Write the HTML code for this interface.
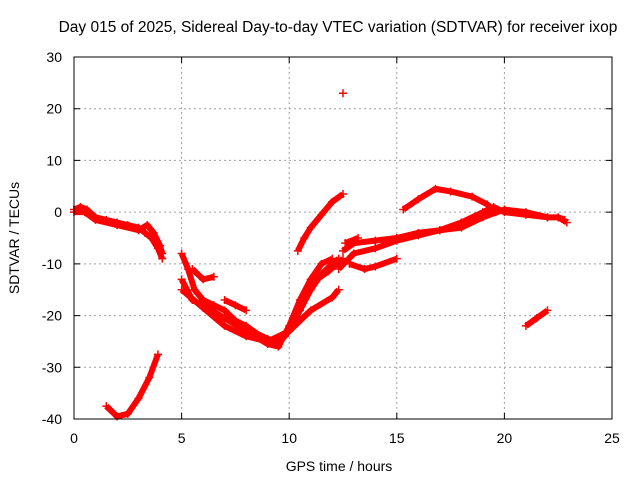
<!DOCTYPE html>
<html><head><meta charset="utf-8"><style>
body{margin:0;background:#fff}
svg{display:block;font-family:"Liberation Sans",sans-serif}
</style></head><body>
<svg id="chart" width="640" height="480">
<text x="338" y="32" text-anchor="middle" font-size="15.5">Day 015 of 2025, Sidereal Day-to-day VTEC variation (SDTVAR) for receiver ixop</text>
<text x="339" y="471" text-anchor="middle" font-size="14">GPS time / hours</text>
<text transform="translate(19,238) rotate(-90)" text-anchor="middle" font-size="14">SDTVAR / TECUs</text>
<g id="grid"></g>
<g id="marks"></g>
<rect x="74" y="57" width="538" height="362" fill="none" stroke="#000" stroke-width="1"/>
</svg>
<script>
const xTicks=[0,5,10,15,20,25];
const yTicks=[30,20,10,0,-10,-20,-30,-40];
const t1=[[0,0.5],[0.3,1],[0.6,0.5],[1,-1],[1.5,-1.5],[2,-2],[2.5,-2.5],[3,-3],[3.3,-4],[3.6,-5],[3.9,-7],[4.1,-9]];
const t1b=[[0,0],[0.5,0],[1,-1.5],[2,-2.5],[3,-3.5],[3.4,-2.5],[3.7,-4],[4,-6.5],[4.1,-8]];
const t2=[[1.5,-37.5],[2,-39.5],[2.5,-39],[3,-36],[3.5,-32],[3.9,-27.5]];
const t3=[[5,-8],[5.3,-11],[5.6,-15],[6,-17],[6.5,-18],[7,-19],[7.5,-21],[8,-22],[8.5,-23.5],[9,-24.5],[9.5,-25],[10,-23],[10.5,-19],[11,-15],[11.5,-12],[12,-10],[12.3,-9]];
const t3b=[[5,-13],[5.5,-17],[6,-18],[7,-20.5],[8,-23],[9,-25.5],[9.5,-26],[10,-22],[10.5,-17],[11,-13],[11.5,-10],[12,-9]];
const t3c=[[5,-15],[6,-18.5],[7,-22],[8,-24],[9,-25],[10,-23],[11,-19],[12,-16.5],[12.3,-15]];
const t3f=[[9.3,-25],[9.8,-24],[10.3,-20],[10.8,-16],[11.3,-13],[11.8,-11.5],[12.5,-9]];
const t3d=[[5.5,-11],[6,-13],[6.5,-12.5]];
const t3e=[[7,-17],[7.5,-18],[8,-19]];
const t4=[[10.4,-7.5],[10.7,-5],[11,-3],[11.5,-0.5],[12,2],[12.5,3.5]];
const t5=[[12.5,23]];
const t6=[[12.3,-11],[13,-8],[14,-7],[15,-5.5],[16,-4.5],[17,-3.5],[18,-2],[19,0],[19.5,1],[20,0],[21,-0.5],[22,-1],[22.5,-1],[22.8,-1.5]];
const t6b=[[12.5,-7.5],[13,-6],[14,-5.5],[15,-5],[16,-4],[17,-3.5],[18,-3],[19,-1],[20,0.5],[21,0],[22,-1]];
const t6c=[[12.8,-10],[13.5,-11],[14,-10.5],[15,-9]];
const t6d=[[12.6,-6],[13.2,-5]];
const t7=[[15.3,0.5],[16,2.5],[16.8,4.5],[17.5,4],[18.5,3],[19.2,1.5],[19.6,0]];
const t8=[[21,-22],[21.5,-20.5],[22,-19]];
const t9=[[22.5,-1],[22.9,-2]];
const tracks=[t1,t1b,t2,t3,t3b,t3c,t3f,t3d,t3e,t4,t5,t6,t6b,t6c,t6d,t7,t8,t9];

const NS="http://www.w3.org/2000/svg";
const X0=74,X1=612,Y0=419,Y1=57;
function sx(v){return X0+(v-0)/(25-0)*(X1-X0);}
function sy(v){return Y0-(v+40)/(70)*(Y0-Y1);}
const grid=document.getElementById('grid');
const svg=document.getElementById('chart');
xTicks.forEach(t=>{
  const x=sx(t);
  if(t>0&&t<25){const l=document.createElementNS(NS,'line');
  l.setAttribute('x1',x);l.setAttribute('x2',x);l.setAttribute('y1',Y1);l.setAttribute('y2',Y0);
  l.setAttribute('stroke','#a0a0a0');l.setAttribute('stroke-dasharray','2,3');
  
  
  grid.appendChild(l);}
  const tk=document.createElementNS(NS,'path');
  tk.setAttribute('d',`M${x},${Y0}v-6M${x},${Y1}v6`);tk.setAttribute('stroke','#000');
  
  
  grid.appendChild(tk);
  const tx=document.createElementNS(NS,'text');
  tx.setAttribute('x',x);tx.setAttribute('y',443);tx.setAttribute('text-anchor','middle');tx.setAttribute('font-size','14');
  tx.textContent=t;
  
  
  svg.appendChild(tx);
});
yTicks.forEach(t=>{
  const y=sy(t);
  if(t<30&&t>-40){const l=document.createElementNS(NS,'line');
  l.setAttribute('x1',X0);l.setAttribute('x2',X1);l.setAttribute('y1',y);l.setAttribute('y2',y);
  l.setAttribute('stroke','#a0a0a0');l.setAttribute('stroke-dasharray','2,3');
  
  
  grid.appendChild(l);}
  const tk=document.createElementNS(NS,'path');
  tk.setAttribute('d',`M${X0},${y}h6M${X1},${y}h-6`);tk.setAttribute('stroke','#000');
  
  
  grid.appendChild(tk);
  const tx=document.createElementNS(NS,'text');
  tx.setAttribute('x',62);tx.setAttribute('y',y+5);tx.setAttribute('text-anchor','end');tx.setAttribute('font-size','14');
  tx.textContent=t;
  
  
  svg.appendChild(tx);
});
const marks=document.getElementById('marks');
tracks.forEach(tr=>{
  if(tr.length>1){
    const p=document.createElementNS(NS,'polyline');
    p.setAttribute('points',tr.map(d=>sx(d[0])+','+sy(d[1])).join(' '));
    p.setAttribute('fill','none');p.setAttribute('stroke','#ff0000');p.setAttribute('stroke-width','6');
    p.setAttribute('stroke-linejoin','round');
    
    
    marks.appendChild(p);
  }
  tr.forEach(d=>{
    const x=sx(d[0]),y=sy(d[1]);
    const m=document.createElementNS(NS,'path');
    m.setAttribute('d',`M${x-4},${y}h8M${x},${y-4}v8`);
    m.setAttribute('stroke','#ff0000');m.setAttribute('stroke-width','1.5');
    
    
    marks.appendChild(m);
  });
});
</script>
</body></html>
